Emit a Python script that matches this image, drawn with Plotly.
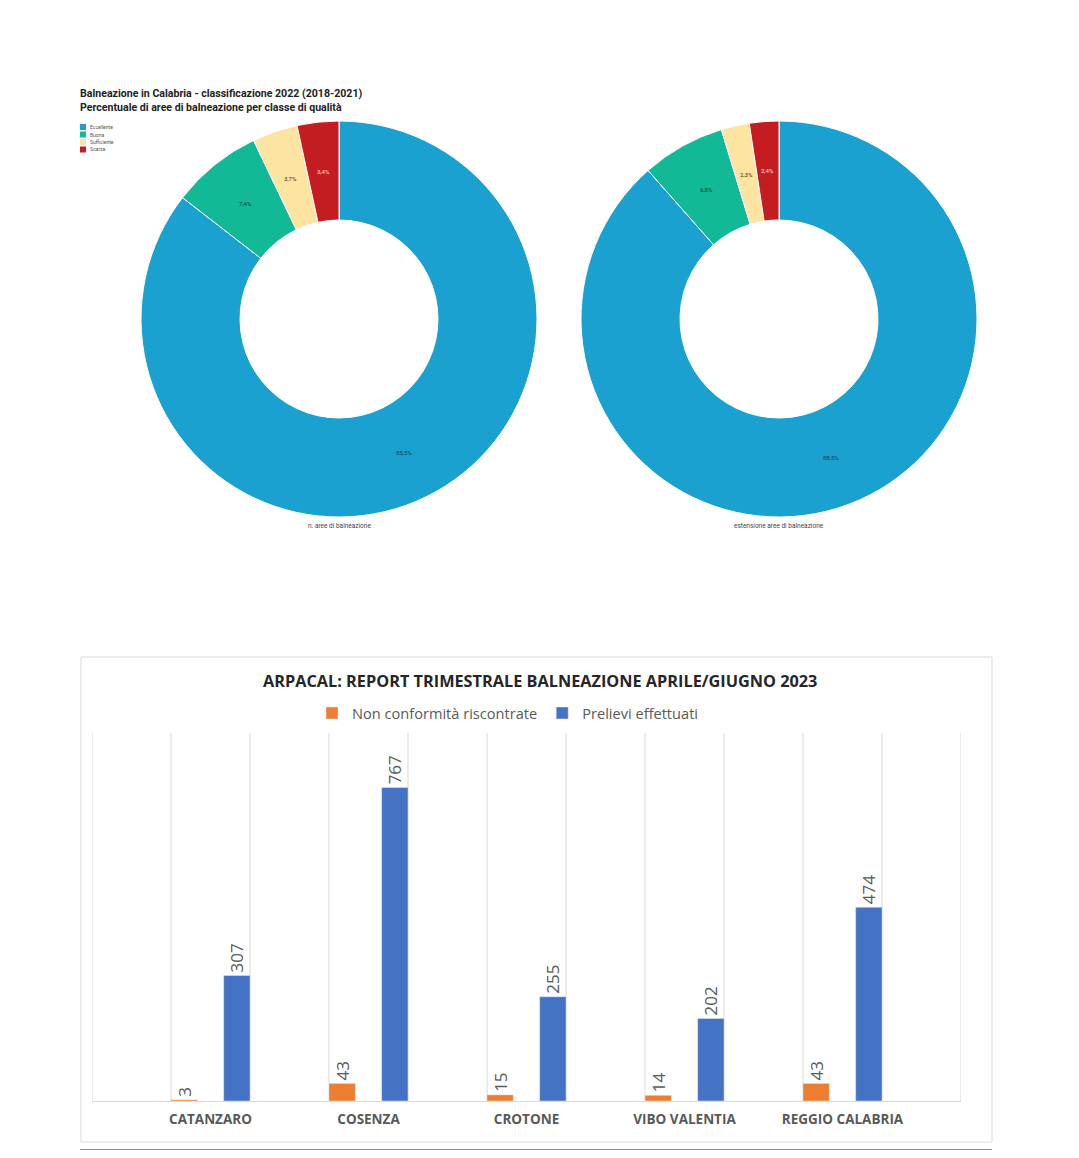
import math
import plotly.graph_objects as go

# ---------------- data ----------------
classi = ["Eccellente", "Buona", "Sufficiente", "Scarsa"]
colori_classi = ["#1ba1cf", "#12b997", "#fde4a0", "#c41d21"]
colori_etichette = ["#0d3d57", "#073d31", "#3a3320", "#ffe0e0"]
pct_numero = [85.5, 7.4, 3.7, 3.4]
pct_estensione = [88.5, 6.8, 2.3, 2.4]
didascalie_pie = ["n. aree di balneazione", "estensione aree di balneazione"]

province = ["CATANZARO", "COSENZA", "CROTONE", "VIBO VALENTIA", "REGGIO CALABRIA"]
non_conformita = [3, 43, 15, 14, 43]
prelievi = [307, 767, 255, 202, 474]
serie_nomi = ["Non conformità riscontrate", "Prelievi effettuati"]
serie_colori = ["#ed7d31", "#4472c4"]

# page has an 8px body margin; map screen pixels to paper fractions
OFF = 8
W, H = 1079 - 2 * OFF, 1158 - 2 * OFF
def px(x):
    return (x - OFF) / W
def py(y):
    return 1 - (y - OFF) / H

def fmt(v):
    return f"{v:.1f}%".replace(".", ",")

fig = go.Figure()
shapes = []
annotations = []

# ---------------- donuts ----------------
PIE_R = 198
HOLE = 0.5
pie_centres = [(339, 319), (779, 319)]
for vals, (cx, cy), cap in zip([pct_numero, pct_estensione], pie_centres, didascalie_pie):
    fig.add_trace(go.Pie(
        labels=classi, values=vals, hole=HOLE, sort=False,
        direction="clockwise", rotation=0,
        marker=dict(colors=colori_classi, line=dict(color="white", width=1)),
        textinfo="none",
        domain=dict(x=[px(cx - PIE_R), px(cx + PIE_R)], y=[py(cy + PIE_R), py(cy - PIE_R)]),
        showlegend=False, hoverinfo="label+percent",
    ))
    # slice labels at mid-ring, mid-angle (derived from the values)
    tot = sum(vals)
    cum = 0.0
    r_mid = PIE_R * (1 + HOLE) / 2
    for v, tc in zip(vals, colori_etichette):
        ang = 2 * math.pi * (cum + v / 2) / tot
        cum += v
        lx = cx + r_mid * math.sin(ang)
        ly = cy - r_mid * math.cos(ang)
        annotations.append(dict(text=fmt(v), xref="paper", yref="paper", x=px(lx), y=py(ly),
                                xanchor="center", yanchor="middle", showarrow=False,
                                font=dict(size=6, color=tc, family="Roboto")))
    annotations.append(dict(text=cap, xref="paper", yref="paper", x=px(cx), y=py(526),
                            xanchor="center", yanchor="middle", showarrow=False,
                            font=dict(size=6.5, color="#444444", family="Roboto")))

# ---------------- bars ----------------
for nome, col, vals in zip(serie_nomi, serie_colori, [non_conformita, prelievi]):
    fig.add_trace(go.Bar(
        x=province, y=vals, name=nome, marker=dict(color=col),
        text=vals, textposition="outside", textangle=-90,
        textfont=dict(size=17, color="#595959", family="Open Sans"),
        constraintext="none", cliponaxis=False,
    ))

# vertical gridlines of the bar chart (every half category)
for k in range(12):
    xv = -0.75 + 0.5 * k
    shapes.append(dict(type="line", xref="x", yref="y domain", x0=xv, x1=xv,
                       y0=0, y1=1, line=dict(color="#d9d9d9", width=1), layer="below"))

# bar chart frame and bottom navy rule
shapes.append(dict(type="rect", xref="paper", yref="paper",
                   x0=px(81), x1=px(992), y0=py(1142), y1=py(657),
                   line=dict(color="#d9d9d9", width=1), layer="below"))
shapes.append(dict(type="line", xref="paper", yref="paper",
                   x0=px(80), x1=px(992), y0=py(1151), y1=py(1151),
                   line=dict(color="#0c1850", width=3)))

# donut legend (manual, tiny)
for i, (c, col) in enumerate(zip(classi, colori_classi)):
    yc = 127 + 7.5 * i
    shapes.append(dict(type="rect", xref="paper", yref="paper",
                       x0=px(80), x1=px(86), y0=py(yc + 3), y1=py(yc - 3),
                       fillcolor=col, line=dict(width=0)))
    annotations.append(dict(text=c, xref="paper", yref="paper", x=px(88), y=py(yc),
                            xanchor="left", yanchor="middle", showarrow=False,
                            font=dict(size=5, color="#555555", family="Roboto")))

# donut title
annotations.append(dict(
    text="<b>Balneazione in Calabria - classificazione 2022 (2018-2021)<br>"
         "Percentuale di aree di balneazione per classe di qualità</b>",
    xref="paper", yref="paper", x=px(78), y=py(85), xanchor="left", yanchor="top",
    align="left", showarrow=False,
    font=dict(size=10.6, color="#222222", family="Roboto")))

# bar chart title
annotations.append(dict(
    text="<b>ARPACAL: REPORT TRIMESTRALE BALNEAZIONE APRILE/GIUGNO 2023</b>",
    xref="paper", yref="paper", x=px(540), y=py(681), xanchor="center", yanchor="middle",
    showarrow=False, font=dict(size=16.3, color="#262626", family="Open Sans")))

fig.update_layout(
    width=W, height=H, autosize=False,
    margin=dict(l=0, r=0, t=0, b=0),
    paper_bgcolor="white", plot_bgcolor="white",
    barmode="group", bargap=0.333, bargroupgap=0.5,
    xaxis=dict(domain=[px(92), px(961)], range=[-0.75, 4.75], type="category",
               showgrid=False, showline=True, linecolor="#d9d9d9", linewidth=1,
               ticks="", zeroline=False, ticklabelstandoff=6,
               tickfont=dict(size=13.5, color="#595959", family="Open Sans", weight="bold")),
    yaxis=dict(domain=[py(1101), py(733)], range=[0, 900], visible=False),
    legend=dict(orientation="h", x=px(508), xanchor="center", y=py(713), yanchor="middle",
                font=dict(size=14.6, color="#595959", family="Open Sans"),
                bgcolor="rgba(0,0,0,0)", itemwidth=30, traceorder="normal"),
    shapes=shapes, annotations=annotations,
)

fig.write_html("out.html")
